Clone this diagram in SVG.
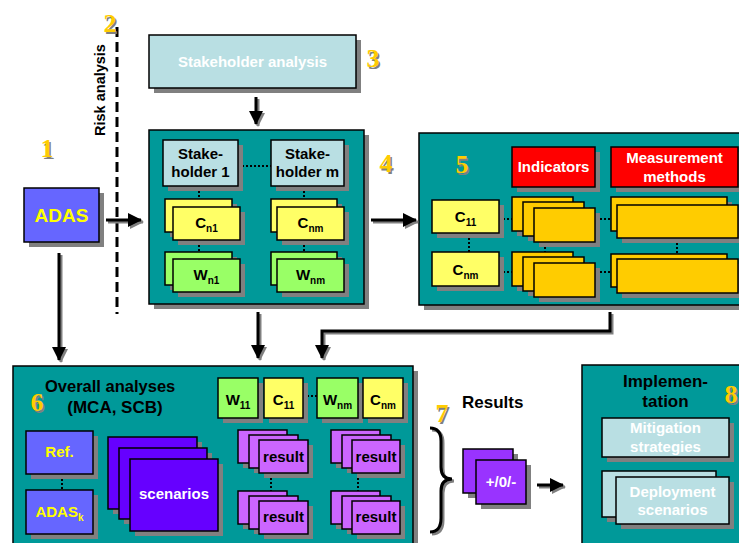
<svg xmlns="http://www.w3.org/2000/svg" width="739" height="543" viewBox="0 0 739 543">
<defs>
<style>
.b{stroke:#000;stroke-width:1.5}
.sh{fill:#808080}
.teal{fill:#009999}
.lb{fill:#B9DFE3}
.blue{fill:#6666FF}
.yel{fill:#FFFF66}
.grn{fill:#99FF66}
.org{fill:#FFCC00}
.red{fill:#FF0000}
.scn{fill:#6600FF}
.res{fill:#CC66FF}
.pm{fill:#9933FF}
text{font-family:"Liberation Sans",Arial,sans-serif;font-weight:bold;font-size:15px}
.w{fill:#fff}
.k{fill:#000}
.y{fill:#FFFF00}
.m{text-anchor:middle}
.sub{font-size:10px}
.num{font-family:"Liberation Serif","Times New Roman",serif;font-size:26px;fill:#FFCC00;text-anchor:middle}
.nums{font-family:"Liberation Serif","Times New Roman",serif;font-size:26px;fill:#808080;text-anchor:middle}
.dot{stroke:#000;stroke-width:2;stroke-dasharray:2,2;fill:none}
.ln{stroke:#000;stroke-width:3;fill:none}
.lns{stroke:#808080;stroke-width:3;fill:none}
</style>
<marker id="ah" markerUnits="userSpaceOnUse" markerWidth="14" markerHeight="14" viewBox="0 0 14 14" refX="13" refY="7" orient="auto"><path d="M0,0 L14,7 L0,14 z" fill="#000"/></marker>
<marker id="ahs" markerUnits="userSpaceOnUse" markerWidth="14" markerHeight="14" viewBox="0 0 14 14" refX="13" refY="7" orient="auto"><path d="M0,0 L14,7 L0,14 z" fill="#808080"/></marker>
</defs>
<rect width="739" height="543" fill="#fff"/>

<!-- risk analysis -->
<g id="risk">
<line x1="117" y1="27" x2="117" y2="314" stroke="#000" stroke-width="3" stroke-dasharray="10,5"/>
<text class="k m" transform="translate(105,90) rotate(-90)" style="font-size:14.5px">Risk analysis</text>
</g>

<!-- 1 ADAS -->
<g id="adas">
<rect class="sh" x="29" y="193" width="75" height="54"/>
<rect class="blue b" x="24" y="188" width="75" height="54"/>
<text class="y m" x="61.5" y="222" style="font-size:19px">ADAS</text>
</g>

<!-- 3 Stakeholder analysis -->
<g id="stakeholder-analysis">
<rect class="sh" x="154" y="40" width="207" height="53"/>
<rect class="lb b" x="149" y="35" width="207" height="53"/>
<text class="w m" x="252.5" y="67">Stakeholder analysis</text>
</g>

<!-- 4 Stakeholder box -->
<g id="stakeholders">
<rect class="sh" x="154" y="135" width="215" height="174"/>
<rect class="teal b" x="149" y="130" width="215" height="174"/>
<line class="dot" x1="238" y1="166" x2="271" y2="166"/>
<line class="dot" x1="199" y1="191" x2="199" y2="199"/>
<line class="dot" x1="304" y1="191" x2="304" y2="199"/>
<line class="dot" x1="199" y1="245" x2="199" y2="252"/>
<line class="dot" x1="304" y1="245" x2="304" y2="252"/>
<g id="stakeholder-1">
<rect class="sh" x="168" y="145" width="75" height="46"/>
<rect class="lb b" x="163" y="140" width="75" height="46"/>
<text class="k m" x="200.5" y="159">Stake-</text>
<text class="k m" x="200.5" y="177">holder 1</text>
</g>
<g id="stakeholder-m">
<rect class="sh" x="276" y="145" width="73" height="46"/>
<rect class="lb b" x="271" y="140" width="73" height="46"/>
<text class="k m" x="307.5" y="159">Stake-</text>
<text class="k m" x="307.5" y="177">holder m</text>
</g>
<g id="c-n1">
<rect class="sh" x="170" y="204" width="67" height="33"/>
<rect class="yel b" x="165" y="199" width="67" height="33"/>
<rect class="sh" x="178" y="212" width="67" height="33"/>
<rect class="yel b" x="173" y="207" width="67" height="33"/>
<text class="k m" x="206.5" y="228">C<tspan class="sub" dy="4">n1</tspan></text>
</g>
<g id="c-nm">
<rect class="sh" x="276" y="204" width="66" height="33"/>
<rect class="yel b" x="271" y="199" width="66" height="33"/>
<rect class="sh" x="282" y="212" width="67" height="33"/>
<rect class="yel b" x="277" y="207" width="67" height="33"/>
<text class="k m" x="310.5" y="228">C<tspan class="sub" dy="4">nm</tspan></text>
</g>
<g id="w-n1">
<rect class="sh" x="170" y="257" width="67" height="33"/>
<rect class="grn b" x="165" y="252" width="67" height="33"/>
<rect class="sh" x="178" y="264" width="67" height="33"/>
<rect class="grn b" x="173" y="259" width="67" height="33"/>
<text class="k m" x="206.5" y="280">W<tspan class="sub" dy="4">n1</tspan></text>
</g>
<g id="w-nm">
<rect class="sh" x="276" y="257" width="66" height="33"/>
<rect class="grn b" x="271" y="252" width="66" height="33"/>
<rect class="sh" x="282" y="264" width="67" height="33"/>
<rect class="grn b" x="277" y="259" width="67" height="33"/>
<text class="k m" x="310.5" y="280">W<tspan class="sub" dy="4">nm</tspan></text>
</g>
</g>

<!-- 5 Indicators -->
<g id="indicators-box">
<rect class="sh" x="424" y="138" width="330" height="172"/>
<rect class="teal b" x="419" y="133" width="330" height="172"/>
<line class="dot" x1="499" y1="219" x2="512" y2="219"/>
<line class="dot" x1="499" y1="272" x2="512" y2="272"/>
<line class="dot" x1="600" y1="219" x2="611" y2="219"/>
<line class="dot" x1="600" y1="272" x2="611" y2="272"/>
<line class="dot" x1="469" y1="238" x2="469" y2="252"/>
<line class="dot" x1="545" y1="247" x2="545" y2="252"/>
<line class="dot" x1="677" y1="243" x2="677" y2="254"/>
<g id="indicators">
<rect class="sh" x="517" y="152" width="83" height="40"/>
<rect class="red b" x="512" y="147" width="83" height="40"/>
<text class="w m" x="553.5" y="172">Indicators</text>
</g>
<g id="measurement-methods">
<rect class="sh" x="616" y="152" width="127" height="40"/>
<rect class="red b" x="611" y="147" width="127" height="40"/>
<text class="w m" x="674.5" y="163">Measurement</text>
<text class="w m" x="674.5" y="182">methods</text>
</g>
<g id="c-11">
<rect class="sh" x="437" y="205" width="67" height="33"/>
<rect class="yel b" x="432" y="200" width="67" height="33"/>
<text class="k m" x="465.5" y="222">C<tspan class="sub" dy="4">11</tspan></text>
</g>
<g id="c-nm-5">
<rect class="sh" x="437" y="257" width="67" height="34"/>
<rect class="yel b" x="432" y="252" width="67" height="34"/>
<text class="k m" x="465.5" y="275">C<tspan class="sub" dy="4">nm</tspan></text>
</g>
<g id="ind-stack-1">
<rect class="sh" x="517" y="202" width="61" height="34"/>
<rect class="org b" x="512" y="197" width="61" height="34"/>
<rect class="sh" x="528" y="207" width="61" height="34"/>
<rect class="org b" x="523" y="202" width="61" height="34"/>
<rect class="sh" x="539" y="213" width="61" height="34"/>
<rect class="org b" x="534" y="208" width="61" height="34"/>
</g>
<g id="ind-stack-2">
<rect class="sh" x="517" y="257" width="61" height="34"/>
<rect class="org b" x="512" y="252" width="61" height="34"/>
<rect class="sh" x="528" y="262" width="61" height="34"/>
<rect class="org b" x="523" y="257" width="61" height="34"/>
<rect class="sh" x="539" y="268" width="61" height="34"/>
<rect class="org b" x="534" y="263" width="61" height="34"/>
</g>
<g id="meas-stack-1">
<rect class="sh" x="616" y="202" width="116" height="34"/>
<rect class="org b" x="611" y="197" width="116" height="34"/>
<rect class="sh" x="622" y="210" width="121" height="33"/>
<rect class="org b" x="617" y="205" width="121" height="33"/>
</g>
<g id="meas-stack-2">
<rect class="sh" x="616" y="259" width="116" height="33"/>
<rect class="org b" x="611" y="254" width="116" height="33"/>
<rect class="sh" x="622" y="264" width="121" height="34"/>
<rect class="org b" x="617" y="259" width="121" height="34"/>
</g>
</g>

<!-- 6 Overall analyses -->
<g id="overall">
<rect class="sh" x="18" y="371" width="400" height="185"/>
<rect class="teal b" x="13" y="366" width="400" height="185"/>
<text class="k" x="45" y="392" style="font-size:16.5px">Overall analyses</text>
<text class="k m" x="115" y="413" style="font-size:17px">(MCA, SCB)</text>
<line class="dot" x1="303" y1="396" x2="317" y2="396"/>
<line class="dot" x1="62" y1="479" x2="62" y2="490"/>
<line class="dot" x1="271" y1="478" x2="271" y2="491"/>
<line class="dot" x1="358" y1="478" x2="358" y2="491"/>
<g id="w-11">
<rect class="sh" x="223" y="383" width="40" height="40"/>
<rect class="grn b" x="218" y="378" width="40" height="40"/>
<text class="k m" x="238" y="405">W<tspan class="sub" dy="4">11</tspan></text>
</g>
<g id="c-11-6">
<rect class="sh" x="269" y="383" width="39" height="40"/>
<rect class="yel b" x="264" y="378" width="39" height="40"/>
<text class="k m" x="283.5" y="405">C<tspan class="sub" dy="4">11</tspan></text>
</g>
<g id="w-nm-6">
<rect class="sh" x="322" y="383" width="41" height="40"/>
<rect class="grn b" x="317" y="378" width="41" height="40"/>
<text class="k m" x="337.5" y="405">W<tspan class="sub" dy="4">nm</tspan></text>
</g>
<g id="c-nm-6">
<rect class="sh" x="368" y="383" width="40" height="40"/>
<rect class="yel b" x="363" y="378" width="40" height="40"/>
<text class="k m" x="383" y="405">C<tspan class="sub" dy="4">nm</tspan></text>
</g>
<g id="ref">
<rect class="sh" x="31" y="436" width="67" height="43"/>
<rect class="blue b" x="26" y="431" width="67" height="43"/>
<text class="y m" x="59.5" y="457">Ref.</text>
</g>
<g id="adas-k">
<rect class="sh" x="31" y="495" width="67" height="44"/>
<rect class="blue b" x="26" y="490" width="67" height="44"/>
<text class="y m" x="59.5" y="517">ADAS<tspan class="sub" dy="4">k</tspan></text>
</g>
<g id="scenarios">
<rect class="sh" x="113" y="442" width="89" height="72"/>
<rect class="scn b" x="108" y="437" width="89" height="72"/>
<rect class="sh" x="124" y="453" width="88" height="71"/>
<rect class="scn b" x="119" y="448" width="88" height="71"/>
<rect class="sh" x="135" y="464" width="88" height="72"/>
<rect class="scn b" x="130" y="459" width="88" height="72"/>
<text class="w m" x="174" y="499">scenarios</text>
</g>
<g id="result-11">
<rect class="sh" x="243" y="435" width="49" height="33"/>
<rect class="res b" x="238" y="430" width="49" height="33"/>
<rect class="sh" x="254" y="440" width="49" height="33"/>
<rect class="res b" x="249" y="435" width="49" height="33"/>
<rect class="sh" x="264" y="445" width="49" height="33"/>
<rect class="res b" x="259" y="440" width="49" height="33"/>
<text class="k m" x="283.5" y="462">result</text>
</g>
<g id="result-21">
<rect class="sh" x="243" y="496" width="49" height="33"/>
<rect class="res b" x="238" y="491" width="49" height="33"/>
<rect class="sh" x="254" y="501" width="49" height="33"/>
<rect class="res b" x="249" y="496" width="49" height="33"/>
<rect class="sh" x="264" y="506" width="49" height="33"/>
<rect class="res b" x="259" y="501" width="49" height="33"/>
<text class="k m" x="283.5" y="522">result</text>
</g>
<g id="result-12">
<rect class="sh" x="336" y="435" width="49" height="33"/>
<rect class="res b" x="331" y="430" width="49" height="33"/>
<rect class="sh" x="347" y="440" width="49" height="33"/>
<rect class="res b" x="342" y="435" width="49" height="33"/>
<rect class="sh" x="357" y="445" width="48" height="33"/>
<rect class="res b" x="352" y="440" width="48" height="33"/>
<text class="k m" x="376" y="462">result</text>
</g>
<g id="result-22">
<rect class="sh" x="336" y="496" width="49" height="33"/>
<rect class="res b" x="331" y="491" width="49" height="33"/>
<rect class="sh" x="347" y="501" width="49" height="33"/>
<rect class="res b" x="342" y="496" width="49" height="33"/>
<rect class="sh" x="357" y="506" width="48" height="33"/>
<rect class="res b" x="352" y="501" width="48" height="33"/>
<text class="k m" x="376" y="522">result</text>
</g>
</g>

<!-- 7 Results -->
<g id="results">
<text class="k" x="462" y="408" style="font-size:17px">Results</text>
<path d="M432,430 Q443,430 443,443 L443,469 Q443,481 454,481 Q443,481 443,493 L443,520 Q443,534 432,534" stroke="#808080" stroke-width="3" fill="none"/>
<path d="M430,428 Q441,428 441,441 L441,467 Q441,479 452,479 Q441,479 441,491 L441,518 Q441,532 430,532" stroke="#000" stroke-width="3" fill="none"/>
<g id="plus-zero-minus">
<rect class="sh" x="468" y="454" width="50" height="44"/>
<rect class="pm b" x="463" y="449" width="50" height="44"/>
<rect class="sh" x="481" y="465" width="50" height="44"/>
<rect class="pm b" x="476" y="460" width="50" height="44"/>
<text class="w m" x="501" y="487">+/0/-</text>
</g>
</g>

<!-- 8 Implementation -->
<g id="implementation">
<rect class="sh" x="587" y="370" width="170" height="190"/>
<rect class="teal b" x="582" y="365" width="170" height="190"/>
<text class="k m" x="665.5" y="387" style="font-size:17px">Implemen-</text>
<text class="k m" x="665.5" y="407" style="font-size:17px">tation</text>
<g id="mitigation">
<rect class="sh" x="607" y="423" width="127" height="39"/>
<rect class="lb b" x="602" y="418" width="127" height="39"/>
<text class="w m" x="665.5" y="433">Mitigation</text>
<text class="w m" x="665.5" y="452">strategies</text>
</g>
<g id="deployment">
<rect class="sh" x="607" y="476" width="114" height="46"/>
<rect class="lb b" x="602" y="471" width="114" height="46"/>
<rect class="sh" x="621" y="482" width="113" height="47"/>
<rect class="lb b" x="616" y="477" width="113" height="47"/>
<text class="w m" x="672.5" y="497">Deployment</text>
<text class="w m" x="672.5" y="515">scenarios</text>
</g>
</g>

<!-- connectors -->
<g id="connectors">
<g id="connector-shadows">
<line class="lns" x1="258" y1="99" x2="258" y2="126" marker-end="url(#ahs)"/>
<line class="lns" x1="108" y1="222" x2="143" y2="222" marker-end="url(#ahs)"/>
<line class="lns" x1="373" y1="222" x2="418" y2="222" marker-end="url(#ahs)"/>
<line class="lns" x1="61" y1="255" x2="61" y2="362" marker-end="url(#ahs)"/>
<line class="lns" x1="260" y1="314" x2="260" y2="360" marker-end="url(#ahs)"/>
<polyline class="lns" points="612,314 612,333 324,333 324,360" marker-end="url(#ahs)"/>
<line class="lns" x1="539" y1="487" x2="565" y2="487" marker-end="url(#ahs)"/>
</g>
<line class="ln" x1="256" y1="97" x2="256" y2="124" marker-end="url(#ah)"/>
<line class="ln" x1="106" y1="220" x2="141" y2="220" marker-end="url(#ah)"/>
<line class="ln" x1="371" y1="220" x2="416" y2="220" marker-end="url(#ah)"/>
<line class="ln" x1="59" y1="253" x2="59" y2="360" marker-end="url(#ah)"/>
<line class="ln" x1="258" y1="312" x2="258" y2="358" marker-end="url(#ah)"/>
<polyline class="ln" points="610,312 610,331 322,331 322,358" marker-end="url(#ah)"/>
<line class="ln" x1="537" y1="485" x2="563" y2="485" marker-end="url(#ah)"/>
</g>

<!-- numbers (drawn last so they sit on top of the boxes) -->
<g id="numbers">
<text class="nums" x="48.5" y="158.5">1</text><text class="num" x="47" y="157">1</text>
<text class="nums" x="111.5" y="33.5">2</text><text class="num" x="110" y="32">2</text>
<text class="nums" x="374.5" y="68.5">3</text><text class="num" x="373" y="67">3</text>
<text class="nums" x="387.5" y="173.5">4</text><text class="num" x="386" y="172">4</text>
<text class="nums" x="463.5" y="174.5">5</text><text class="num" x="462" y="173">5</text>
<text class="nums" x="38.5" y="412.5">6</text><text class="num" x="37" y="411">6</text>
<text class="nums" x="443.5" y="423.5">7</text><text class="num" x="442" y="422">7</text>
<text class="nums" x="732.5" y="404.5">8</text><text class="num" x="731" y="403">8</text>
</g>
</svg>
